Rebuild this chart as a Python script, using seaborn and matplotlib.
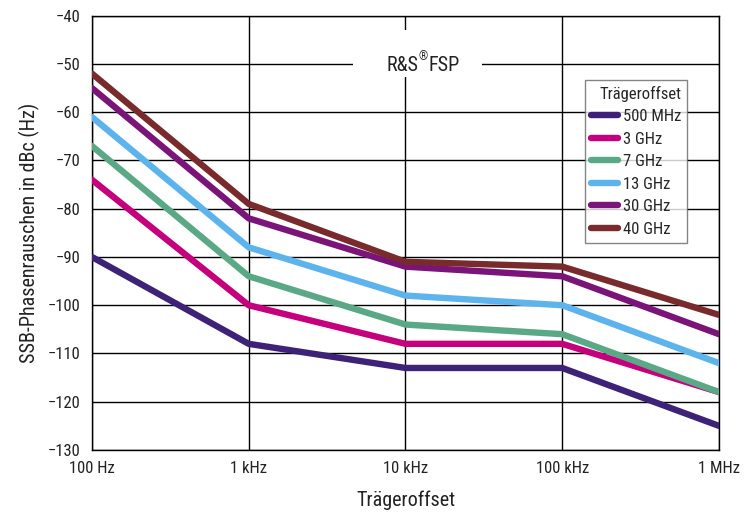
import matplotlib
matplotlib.use("Agg")
import matplotlib.pyplot as plt
import seaborn as sns
import pandas as pd
from matplotlib.lines import Line2D
from matplotlib.patches import Rectangle
from matplotlib import font_manager as fm

offsets_hz = [100, 1000, 10000, 100000, 1000000]
offset_labels = ["100 Hz", "1 kHz", "10 kHz", "100 kHz", "1 MHz"]
series_names = ["500 MHz", "3 GHz", "7 GHz", "13 GHz", "30 GHz", "40 GHz"]
noise_500mhz = [-90, -108, -113, -113, -125]
noise_3ghz = [-74, -100, -108, -108, -118]
noise_7ghz = [-67, -94, -104, -106, -118]
noise_13ghz = [-61, -88, -98, -100, -112]
noise_30ghz = [-55, -82, -92, -94, -106]
noise_40ghz = [-52, -79, -91, -92, -102]
colors = ["#3d2277", "#c4007c", "#5aa886", "#5db4ec", "#7b1479", "#782a2c"]
y_ticks = list(range(-130, -39, 10))

all_values = [noise_500mhz, noise_3ghz, noise_7ghz, noise_13ghz, noise_30ghz, noise_40ghz]
rows = []
for name, vals in zip(series_names, all_values):
    for x, v in zip(offsets_hz, vals):
        rows.append({"offset": x, "noise": v, "carrier": name})
df = pd.DataFrame(rows)

sns.set_theme(style="white")
names = {f.name for f in fm.fontManager.ttflist}
fams = [n for n in ["Liberation Sans Narrow", "Roboto Condensed", "DejaVu Sans"] if n in names]
plt.rcParams["font.family"] = fams
plt.rcParams["font.stretch"] = "condensed"
plt.rcParams["axes.unicode_minus"] = True

fig = plt.figure(figsize=(7.52, 5.15), dpi=100)
ax = fig.add_axes([0.1223, 0.1262, 0.9561 - 0.1223, 0.9695 - 0.1262])

sns.lineplot(data=df, x="offset", y="noise", hue="carrier", hue_order=series_names,
             palette=colors, linewidth=4.6, ax=ax, legend=False,
             solid_capstyle="round", solid_joinstyle="round", zorder=3)

ax.set_xscale("log")
ax.set_xlim(100, 1e6)
ax.set_ylim(-130, -40)
ax.set_xticks(offsets_hz)
ax.set_xticklabels(offset_labels)
ax.minorticks_off()
ax.set_yticks(y_ticks)
ax.set_yticklabels(["\u2212" + str(abs(t)) for t in y_ticks])
ax.tick_params(axis="both", length=0, labelsize=12, colors="#222222", pad=8)
ax.grid(True, color="black", linewidth=1.0, zorder=1)
ax.set_axisbelow(True)
for s in ax.spines.values():
    s.set_color("black")
    s.set_linewidth(1.0)
ax.set_xlabel("Trägeroffset", fontsize=14.5, color="#222222", labelpad=10)
ax.set_ylabel("SSB-Phasenrauschen in dBc (Hz)", fontsize=14.5, color="#222222", labelpad=6)

# title box
ax.add_patch(Rectangle((0.416, 0.859), 0.206, 0.108, transform=ax.transAxes,
                       facecolor="white", edgecolor="none", zorder=2))
ax.text(0.520, 0.885, "R&S", transform=ax.transAxes, ha="right", va="center",
        fontsize=14.5, color="#222222", zorder=4)
ax.text(0.5275, 0.905, "\u00ae", transform=ax.transAxes, ha="center", va="center",
        fontsize=8.5, color="#222222", zorder=4)
ax.text(0.536, 0.885, "FSP", transform=ax.transAxes, ha="left", va="center",
        fontsize=14.5, color="#222222", zorder=4)

handles = [Line2D([0], [0], color=c, linewidth=4.6, solid_capstyle="round") for c in colors]
leg = ax.legend(handles, series_names, title="Trägeroffset", loc="upper right",
                bbox_to_anchor=(0.949, 0.852), frameon=True, fancybox=False,
                fontsize=12, title_fontsize=12, handlelength=1.6, handletextpad=0.3,
                labelspacing=0.45, borderpad=0.35, borderaxespad=0, alignment="right")
leg.get_frame().set_edgecolor("#666666")
leg.get_frame().set_linewidth(1.0)
leg.set_zorder(5)

fig.savefig("out.png", dpi=100)
